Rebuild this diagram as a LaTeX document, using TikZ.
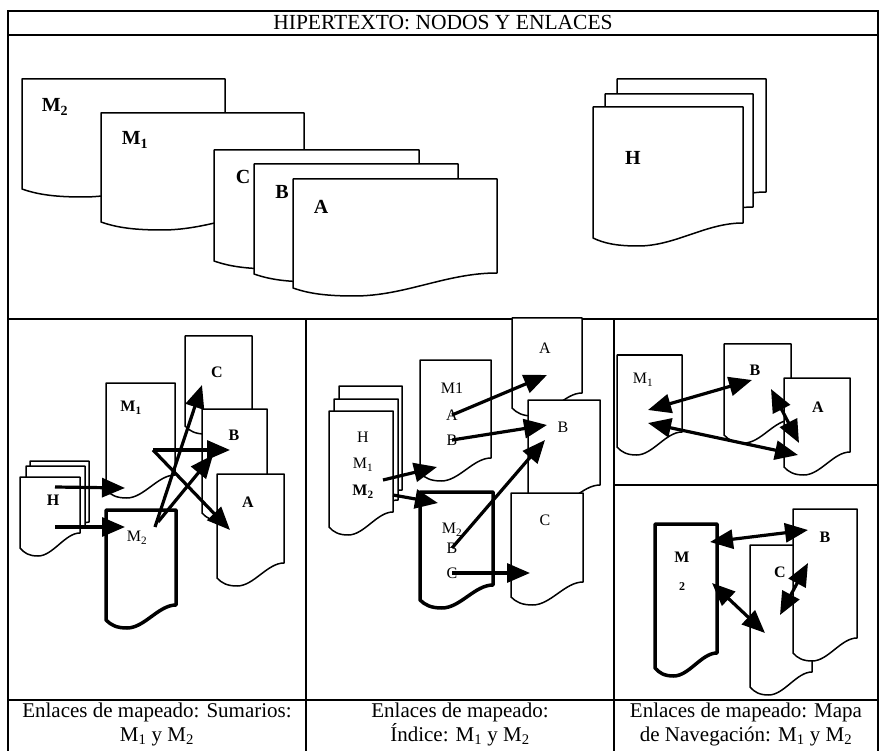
\documentclass[tikz,border=0pt]{standalone}
\usepackage{fontspec}
\setmainfont{Liberation Serif}
\usetikzlibrary{arrows.meta}

% sheet with a wavy lower edge: [style]{left}{top}{width}{height of left side}
\newcommand{\docsheet}[5][]{%
  \draw[doc,#1] (#2,#3) -- ({#2+#4},#3) -- ({#2+#4},{#3+#5-15})
    .. controls ({#2+0.75*#4},{#3+#5-15}) and ({#2+0.55*#4},{#3+#5+8}) .. ({#2+0.3*#4},{#3+#5+8})
    .. controls ({#2+0.15*#4},{#3+#5+8}) and ({#2+0.07*#4},{#3+#5+5}) .. (#2,{#3+#5}) -- cycle;}

\tikzset{
  frame/.style={line width=1.2pt},
  doc/.style={draw, fill=white, line width=1.5pt, line join=round},
  heavydoc/.style={line width=3.5pt},
  link/.style={line width=3.2pt, ->},
  twolink/.style={line width=3.2pt, <->},
  biglbl/.style={font=\fontsize{20}{20}\selectfont\bfseries, inner sep=0pt},
  lbl/.style={font=\fontsize{16}{16}\selectfont, inner sep=0pt},
  blbl/.style={font=\fontsize{16}{16}\selectfont\bfseries, inner sep=0pt},
  caption/.style={font=\fontsize{21}{24}\selectfont, align=center},
}

\begin{document}
\begin{tikzpicture}[x=1pt, y=-1pt, >={Triangle[length=23pt,width=19pt]}]
  \useasboundingbox (0,0) rectangle (881,751);

  % table
  \draw[frame] (8,751) -- (8,11) -- (878,11) -- (878,751);
  \draw[frame] (8,35) -- (878,35);
  \draw[frame] (8,319) -- (878,319);
  \draw[frame] (306,319) -- (306,751);
  \draw[frame] (614,319) -- (614,751);
  \draw[frame] (614,485) -- (878,485);
  \draw[frame] (8,700) -- (878,700);
  \node[font=\fontsize{21.5}{22}\selectfont] (title) at (443,23) {HIPERTEXTO: NODOS Y ENLACES};

  % nodos
  \docsheet{22}{79}{203}{110}
  \docsheet{101}{113}{203}{109}
  \docsheet{214}{150}{205}{111}
  \docsheet{254}{164}{204}{110}
  \docsheet{293}{179}{204}{109}
  \docsheet{617}{79}{149}{128}
  \docsheet{605}{94}{148}{128}
  \docsheet{593}{107}{150}{131}
  \node[biglbl] (tM2) at (55,107) {M\textsubscript{2}};
  \node[biglbl] (tM1) at (135,140) {M\textsubscript{1}};
  \node[biglbl] (tC) at (243,177) {C};
  \node[biglbl] (tB) at (282,192) {B};
  \node[biglbl] (tA) at (321,207) {A};
  \node[biglbl] (tH) at (633,158) {H};

  % sumarios
  \docsheet{185}{336}{67}{90}
  \docsheet{202}{409}{65}{104}
  \docsheet{217}{474}{67}{104}
  \docsheet{106}{383}{69}{107}
  \docsheet{30}{461}{59}{76}
  \docsheet{26}{466}{59}{76}
  \docsheet{20}{477}{60}{71}
  \docsheet[heavydoc]{106}{510}{70}{110}
  \node[blbl] (sM1) at (131,408) {M\textsubscript{1}};
  \node[blbl] (sC) at (217,372) {C};
  \node[blbl] (sB) at (234,435) {B};
  \node[blbl] (sA) at (248,502) {A};
  \node[blbl] (sH) at (53,500) {H};
  \node[lbl] (sM2) at (137,538) {M\textsubscript{2}};
  \coordinate (sh1) at (55,487);  \coordinate (sm1in) at (125,488);
  \coordinate (sh2) at (55,527);  \coordinate (sm2in) at (125,527);
  \coordinate (sm2a) at (155,527); \coordinate (scin) at (202,385);
  \coordinate (sm2b) at (158,522); \coordinate (sbin) at (213,455);
  \coordinate (sm1o) at (153,450); \coordinate (sbin2) at (230,450);
  \coordinate (sain) at (230,530);
  \draw[link] (sh1) -- (sm1in);
  \draw[link] (sh2) -- (sm2in);
  \draw[link] (sm2a) -- (scin);
  \draw[link] (sm2b) -- (sbin);
  \draw[link] (sm1o) -- (sbin2);
  \draw[link] (sm1o) -- (sain);

  % indice
  \docsheet{512}{318}{70}{90}
  \docsheet{528}{400}{72}{100}
  \docsheet{511}{493}{72}{104}
  \docsheet{420}{360}{71}{113}
  \docsheet{339}{386}{63}{119}
  \docsheet{334}{399}{64}{116}
  \docsheet{329}{411}{64}{116}
  \docsheet[heavydoc]{420}{492}{73}{108}
  \node[lbl] (iA) at (545,348) {A};
  \node[lbl] (iB) at (563,427) {B};
  \node[lbl] (iC) at (545,520) {C};
  \node[lbl] (iM1) at (452,388) {M1};
  \node[lbl] (iM1a) at (452,415) {A};
  \node[lbl] (iM1b) at (452,440) {B};
  \node[lbl] (iH) at (363,437) {H};
  \node[lbl] (iHm1) at (363,465) {M\textsubscript{1}};
  \node[blbl] (iHm2) at (363,492) {M\textsubscript{2}};
  \node[lbl] (iM2) at (452,530) {M\textsubscript{2}};
  \node[lbl] (iM2b) at (452,548) {B};
  \node[lbl] (iM2c) at (452,573) {C};
  \coordinate (ih1) at (383,480);  \coordinate (im1in) at (437,467);
  \coordinate (ih2) at (393,495);  \coordinate (im2in) at (438,503);
  \coordinate (iain) at (547,375); \coordinate (ibin) at (547,425);
  \coordinate (ibin2) at (545,440); \coordinate (icin) at (530,573);
  \draw[link] (ih1) -- (im1in);
  \draw[link] (ih2) -- (im2in);
  \draw[link] (iM1a.center) -- (iain);
  \draw[link] (iM1b.center) -- (ibin);
  \draw[link] (iM2b.center) -- (ibin2);
  \draw[link] (iM2c.center) -- (icin);

  % mapa de navegacion: M1
  \docsheet{724}{344}{67}{91}
  \docsheet{784}{378}{66}{89}
  \docsheet{617}{355}{65}{92}
  \node[lbl] (nM1) at (643,380) {M\textsubscript{1}};
  \node[blbl] (nB) at (755,370) {B};
  \node[blbl] (nA) at (818,407) {A};
  \coordinate (nm1a) at (648,410); \coordinate (nb1) at (752,380);
  \coordinate (nm1b) at (648,423); \coordinate (na1) at (798,455);
  \coordinate (nb2) at (771,389);  \coordinate (na2) at (799,443);
  \draw[twolink] (nm1a) -- (nb1);
  \draw[twolink] (nm1b) -- (na1);
  \draw[twolink] (nb2) -- (na2);

  % mapa de navegacion: M2
  \docsheet{750}{545}{62}{142}
  \docsheet{793}{509}{64}{144}
  \docsheet[heavydoc]{655}{524}{62}{144}
  \node[blbl] (mM) at (682,557) {M};
  \node[font=\fontsize{12}{12}\selectfont\bfseries, inner sep=0pt] (m2) at (682,587) {2};
  \node[blbl] (mB) at (825,537) {B};
  \node[blbl] (mC) at (780,572) {C};
  \coordinate (mm2a) at (710,542); \coordinate (mb1) at (808,530);
  \coordinate (mm2b) at (712,583); \coordinate (mc1) at (765,633);
  \coordinate (mc2) at (780,615);  \coordinate (mb2) at (808,563);
  \draw[twolink] (mm2a) -- (mb1);
  \draw[twolink] (mm2b) -- (mc1);
  \draw[twolink] (mc2) -- (mb2);

  % pies
  \node[caption] (cap1) at (157,724) {Enlaces de mapeado: Sumarios:\\M\textsubscript{1} y M\textsubscript{2}};
  \node[caption] (cap2) at (460,724) {Enlaces de mapeado:\\Índice: M\textsubscript{1} y M\textsubscript{2}};
  \node[caption] (cap3) at (746,724) {Enlaces de mapeado: Mapa\\de Navegación: M\textsubscript{1} y M\textsubscript{2}};
\end{tikzpicture}
\end{document}
